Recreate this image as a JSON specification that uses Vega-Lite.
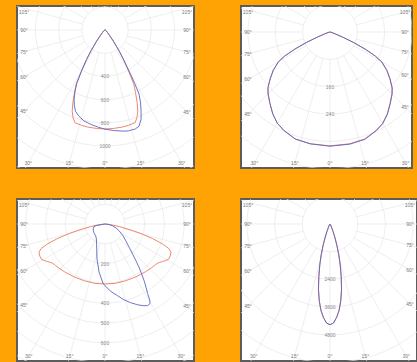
{
"$schema": "https://vega.github.io/schema/vega-lite/v6.json",
"background": "#FFA305",
"padding": {"left": 16, "top": 5, "right": 0, "bottom": 0},
"bounds": "flush",
"columns": 2,
"spacing": {"row": 31, "column": 47},
"resolve": {"scale": {"x": "independent", "y": "independent", "size": "independent"}},
"config": {"view": {"stroke": "#5c5c5c", "strokeWidth": 2, "fill": "#ffffff"}},
"datasets": {
"spokes": [{"g":0},{"g":15},{"g":30},{"g":45},{"g":60},{"g":75},{"g":90},{"g":105},{"g":120},{"g":135},{"g":150},{"g":165},{"g":180},{"g":195},{"g":210},{"g":225},{"g":240},{"g":255},{"g":270},{"g":285},{"g":300},{"g":315},{"g":330},{"g":345}],
"rings": [
{"p":1,"r":200},{"p":1,"r":400},{"p":1,"r":600},{"p":1,"r":800},{"p":1,"r":1000},{"p":1,"r":1200},{"p":1,"r":1400},
{"p":2,"r":80},{"p":2,"r":160},{"p":2,"r":240},{"p":2,"r":320},{"p":2,"r":400},{"p":2,"r":480},
{"p":3,"r":100},{"p":3,"r":200},{"p":3,"r":300},{"p":3,"r":400},{"p":3,"r":500},{"p":3,"r":600},{"p":3,"r":700},{"p":3,"r":800},
{"p":4,"r":1200},{"p":4,"r":2400},{"p":4,"r":3600},{"p":4,"r":4800},{"p":4,"r":6000},{"p":4,"r":7200}],
"ringlabels": [
{"p":1,"r":400},{"p":1,"r":600},{"p":1,"r":800},{"p":1,"r":1000},
{"p":2,"r":160},{"p":2,"r":240},
{"p":3,"r":200},{"p":3,"r":400},{"p":3,"r":500},{"p":3,"r":600},
{"p":4,"r":2400},{"p":4,"r":3600},{"p":4,"r":4800}],
"anglelabels": [
{"t":"105°","g":105,"s":-1,"e":"side"},{"t":"90°","g":90,"s":-1,"e":"side"},{"t":"75°","g":75,"s":-1,"e":"side"},{"t":"60°","g":60,"s":-1,"e":"side"},{"t":"45°","g":45,"s":-1,"e":"side"},
{"t":"105°","g":105,"s":1,"e":"side"},{"t":"90°","g":90,"s":1,"e":"side"},{"t":"75°","g":75,"s":1,"e":"side"},{"t":"60°","g":60,"s":1,"e":"side"},{"t":"45°","g":45,"s":1,"e":"side"},
{"t":"30°","g":30,"s":-1,"e":"bot"},{"t":"15°","g":15,"s":-1,"e":"bot"},{"t":"0°","g":0,"s":1,"e":"bot"},{"t":"15°","g":15,"s":1,"e":"bot"},{"t":"30°","g":30,"s":1,"e":"bot"}],
"curves": [
{"p":1,"pl":"r","g":-90,"I":0},{"p":1,"pl":"r","g":-75,"I":4},{"p":1,"pl":"r","g":-60,"I":10},{"p":1,"pl":"r","g":-45,"I":30},{"p":1,"pl":"r","g":-40,"I":60},{"p":1,"pl":"r","g":-37,"I":120},{"p":1,"pl":"r","g":-34,"I":215},{"p":1,"pl":"r","g":-32,"I":300},{"p":1,"pl":"r","g":-30,"I":400},{"p":1,"pl":"r","g":-28,"I":530},{"p":1,"pl":"r","g":-26,"I":600},{"p":1,"pl":"r","g":-24,"I":680},{"p":1,"pl":"r","g":-22,"I":755},{"p":1,"pl":"r","g":-20,"I":805},{"p":1,"pl":"r","g":-18,"I":840},{"p":1,"pl":"r","g":-14,"I":846},{"p":1,"pl":"r","g":-10,"I":850},{"p":1,"pl":"r","g":-5,"I":852},{"p":1,"pl":"r","g":0,"I":853},{"p":1,"pl":"r","g":5,"I":852},{"p":1,"pl":"r","g":10,"I":850},{"p":1,"pl":"r","g":14,"I":846},{"p":1,"pl":"r","g":18,"I":840},{"p":1,"pl":"r","g":20,"I":805},{"p":1,"pl":"r","g":22,"I":755},{"p":1,"pl":"r","g":24,"I":680},{"p":1,"pl":"r","g":26,"I":600},{"p":1,"pl":"r","g":28,"I":530},{"p":1,"pl":"r","g":30,"I":400},{"p":1,"pl":"r","g":32,"I":300},{"p":1,"pl":"r","g":34,"I":215},{"p":1,"pl":"r","g":37,"I":120},{"p":1,"pl":"r","g":40,"I":60},{"p":1,"pl":"r","g":45,"I":30},{"p":1,"pl":"r","g":60,"I":10},{"p":1,"pl":"r","g":75,"I":4},{"p":1,"pl":"r","g":90,"I":0},
{"p":1,"pl":"b","g":-90,"I":0},{"p":1,"pl":"b","g":-75,"I":4},{"p":1,"pl":"b","g":-60,"I":10},{"p":1,"pl":"b","g":-45,"I":30},{"p":1,"pl":"b","g":-40,"I":60},{"p":1,"pl":"b","g":-37,"I":120},{"p":1,"pl":"b","g":-34,"I":215},{"p":1,"pl":"b","g":-32,"I":300},{"p":1,"pl":"b","g":-30,"I":395},{"p":1,"pl":"b","g":-28,"I":515},{"p":1,"pl":"b","g":-26,"I":590},{"p":1,"pl":"b","g":-24,"I":655},{"p":1,"pl":"b","g":-22,"I":705},{"p":1,"pl":"b","g":-20,"I":745},{"p":1,"pl":"b","g":-17,"I":775},{"p":1,"pl":"b","g":-13,"I":805},{"p":1,"pl":"b","g":-8,"I":825},{"p":1,"pl":"b","g":-4,"I":840},{"p":1,"pl":"b","g":0,"I":855},{"p":1,"pl":"b","g":5,"I":870},{"p":1,"pl":"b","g":10,"I":885},{"p":1,"pl":"b","g":13,"I":893},{"p":1,"pl":"b","g":17,"I":892},{"p":1,"pl":"b","g":19.5,"I":880},{"p":1,"pl":"b","g":22,"I":830},{"p":1,"pl":"b","g":24,"I":764},{"p":1,"pl":"b","g":26,"I":700},{"p":1,"pl":"b","g":28,"I":625},{"p":1,"pl":"b","g":29,"I":530},{"p":1,"pl":"b","g":30,"I":440},{"p":1,"pl":"b","g":32,"I":310},{"p":1,"pl":"b","g":34,"I":220},{"p":1,"pl":"b","g":37,"I":120},{"p":1,"pl":"b","g":40,"I":60},{"p":1,"pl":"b","g":45,"I":30},{"p":1,"pl":"b","g":60,"I":10},{"p":1,"pl":"b","g":75,"I":4},{"p":1,"pl":"b","g":90,"I":0},
{"p":2,"pl":"r","g":-90,"I":0},{"p":2,"pl":"r","g":-75,"I":6},{"p":2,"pl":"r","g":-70,"I":18},{"p":2,"pl":"r","g":-68,"I":40},{"p":2,"pl":"r","g":-66,"I":75},{"p":2,"pl":"r","g":-64,"I":115},{"p":2,"pl":"r","g":-62,"I":150},{"p":2,"pl":"r","g":-60,"I":174},{"p":2,"pl":"r","g":-56,"I":200},{"p":2,"pl":"r","g":-52,"I":222},{"p":2,"pl":"r","g":-48,"I":244},{"p":2,"pl":"r","g":-45,"I":256},{"p":2,"pl":"r","g":-40,"I":273},{"p":2,"pl":"r","g":-35,"I":292},{"p":2,"pl":"r","g":-30,"I":308},{"p":2,"pl":"r","g":-25,"I":318},{"p":2,"pl":"r","g":-18,"I":329},{"p":2,"pl":"r","g":-10,"I":332},{"p":2,"pl":"r","g":0,"I":333},{"p":2,"pl":"r","g":10,"I":332},{"p":2,"pl":"r","g":18,"I":329},{"p":2,"pl":"r","g":25,"I":318},{"p":2,"pl":"r","g":30,"I":308},{"p":2,"pl":"r","g":35,"I":292},{"p":2,"pl":"r","g":40,"I":273},{"p":2,"pl":"r","g":45,"I":256},{"p":2,"pl":"r","g":48,"I":244},{"p":2,"pl":"r","g":52,"I":222},{"p":2,"pl":"r","g":56,"I":200},{"p":2,"pl":"r","g":60,"I":174},{"p":2,"pl":"r","g":62,"I":150},{"p":2,"pl":"r","g":64,"I":115},{"p":2,"pl":"r","g":66,"I":75},{"p":2,"pl":"r","g":68,"I":40},{"p":2,"pl":"r","g":70,"I":18},{"p":2,"pl":"r","g":75,"I":6},{"p":2,"pl":"r","g":90,"I":0},
{"p":2,"pl":"b","g":-90,"I":0},{"p":2,"pl":"b","g":-75,"I":6},{"p":2,"pl":"b","g":-70,"I":18},{"p":2,"pl":"b","g":-68,"I":40},{"p":2,"pl":"b","g":-66,"I":75},{"p":2,"pl":"b","g":-64,"I":115},{"p":2,"pl":"b","g":-62,"I":150},{"p":2,"pl":"b","g":-60,"I":174},{"p":2,"pl":"b","g":-56,"I":200},{"p":2,"pl":"b","g":-52,"I":222},{"p":2,"pl":"b","g":-48,"I":244},{"p":2,"pl":"b","g":-45,"I":256},{"p":2,"pl":"b","g":-40,"I":273},{"p":2,"pl":"b","g":-35,"I":292},{"p":2,"pl":"b","g":-30,"I":308},{"p":2,"pl":"b","g":-25,"I":318},{"p":2,"pl":"b","g":-18,"I":329},{"p":2,"pl":"b","g":-10,"I":332},{"p":2,"pl":"b","g":0,"I":334},{"p":2,"pl":"b","g":10,"I":333},{"p":2,"pl":"b","g":18,"I":330},{"p":2,"pl":"b","g":25,"I":319},{"p":2,"pl":"b","g":30,"I":309},{"p":2,"pl":"b","g":35,"I":293},{"p":2,"pl":"b","g":40,"I":274},{"p":2,"pl":"b","g":45,"I":257},{"p":2,"pl":"b","g":48,"I":245},{"p":2,"pl":"b","g":52,"I":223},{"p":2,"pl":"b","g":56,"I":201},{"p":2,"pl":"b","g":60,"I":175},{"p":2,"pl":"b","g":62,"I":150},{"p":2,"pl":"b","g":64,"I":115},{"p":2,"pl":"b","g":66,"I":75},{"p":2,"pl":"b","g":68,"I":40},{"p":2,"pl":"b","g":70,"I":18},{"p":2,"pl":"b","g":75,"I":6},{"p":2,"pl":"b","g":90,"I":0},
{"p":3,"pl":"r","g":-90,"I":0},{"p":3,"pl":"r","g":-85,"I":18},{"p":3,"pl":"r","g":-82,"I":40},{"p":3,"pl":"r","g":-79.5,"I":76},{"p":3,"pl":"r","g":-77,"I":135},{"p":3,"pl":"r","g":-75,"I":192},{"p":3,"pl":"r","g":-73,"I":250},{"p":3,"pl":"r","g":-71,"I":305},{"p":3,"pl":"r","g":-69,"I":345},{"p":3,"pl":"r","g":-67,"I":362},{"p":3,"pl":"r","g":-64,"I":367},{"p":3,"pl":"r","g":-61,"I":367},{"p":3,"pl":"r","g":-59,"I":358},{"p":3,"pl":"r","g":-57,"I":347},{"p":3,"pl":"r","g":-55,"I":338},{"p":3,"pl":"r","g":-53,"I":330},{"p":3,"pl":"r","g":-50,"I":326},{"p":3,"pl":"r","g":-46,"I":322},{"p":3,"pl":"r","g":-40,"I":316},{"p":3,"pl":"r","g":-30,"I":309},{"p":3,"pl":"r","g":-20,"I":305},{"p":3,"pl":"r","g":-10,"I":304},{"p":3,"pl":"r","g":0,"I":303},{"p":3,"pl":"r","g":10,"I":304},{"p":3,"pl":"r","g":20,"I":305},{"p":3,"pl":"r","g":30,"I":309},{"p":3,"pl":"r","g":40,"I":316},{"p":3,"pl":"r","g":46,"I":322},{"p":3,"pl":"r","g":50,"I":326},{"p":3,"pl":"r","g":53,"I":330},{"p":3,"pl":"r","g":55,"I":338},{"p":3,"pl":"r","g":57,"I":347},{"p":3,"pl":"r","g":59,"I":358},{"p":3,"pl":"r","g":61,"I":367},{"p":3,"pl":"r","g":64,"I":367},{"p":3,"pl":"r","g":67,"I":362},{"p":3,"pl":"r","g":69,"I":345},{"p":3,"pl":"r","g":71,"I":305},{"p":3,"pl":"r","g":73,"I":250},{"p":3,"pl":"r","g":75,"I":192},{"p":3,"pl":"r","g":77,"I":135},{"p":3,"pl":"r","g":79.5,"I":76},{"p":3,"pl":"r","g":82,"I":40},{"p":3,"pl":"r","g":85,"I":18},{"p":3,"pl":"r","g":90,"I":0},
{"p":3,"pl":"b","g":-90,"I":0},{"p":3,"pl":"b","g":-80,"I":45},{"p":3,"pl":"b","g":-76,"I":58},{"p":3,"pl":"b","g":-68,"I":64},{"p":3,"pl":"b","g":-62,"I":67},{"p":3,"pl":"b","g":-50,"I":72},{"p":3,"pl":"b","g":-38,"I":76},{"p":3,"pl":"b","g":-30,"I":87},{"p":3,"pl":"b","g":-22,"I":113},{"p":3,"pl":"b","g":-18,"I":135},{"p":3,"pl":"b","g":-13,"I":180},{"p":3,"pl":"b","g":-7,"I":245},{"p":3,"pl":"b","g":-2,"I":298},{"p":3,"pl":"b","g":0,"I":312},{"p":3,"pl":"b","g":5,"I":342},{"p":3,"pl":"b","g":10,"I":368},{"p":3,"pl":"b","g":14,"I":394},{"p":3,"pl":"b","g":18,"I":418},{"p":3,"pl":"b","g":22,"I":440},{"p":3,"pl":"b","g":25,"I":455},{"p":3,"pl":"b","g":27.5,"I":465},{"p":3,"pl":"b","g":29.5,"I":462},{"p":3,"pl":"b","g":30.5,"I":445},{"p":3,"pl":"b","g":31.5,"I":412},{"p":3,"pl":"b","g":33,"I":380},{"p":3,"pl":"b","g":34.5,"I":350},{"p":3,"pl":"b","g":36,"I":318},{"p":3,"pl":"b","g":38,"I":281},{"p":3,"pl":"b","g":40,"I":245},{"p":3,"pl":"b","g":42.5,"I":207},{"p":3,"pl":"b","g":46,"I":170},{"p":3,"pl":"b","g":51,"I":135},{"p":3,"pl":"b","g":57,"I":108},{"p":3,"pl":"b","g":64,"I":80},{"p":3,"pl":"b","g":70,"I":60},{"p":3,"pl":"b","g":77,"I":38},{"p":3,"pl":"b","g":83,"I":20},{"p":3,"pl":"b","g":90,"I":0},
{"p":4,"pl":"r","g":-90,"I":0},{"p":4,"pl":"r","g":-40,"I":20},{"p":4,"pl":"r","g":-30,"I":60},{"p":4,"pl":"r","g":-25,"I":160},{"p":4,"pl":"r","g":-22,"I":360},{"p":4,"pl":"r","g":-20,"I":600},{"p":4,"pl":"r","g":-18,"I":950},{"p":4,"pl":"r","g":-16,"I":1380},{"p":4,"pl":"r","g":-14,"I":1840},{"p":4,"pl":"r","g":-12,"I":2340},{"p":4,"pl":"r","g":-10,"I":2890},{"p":4,"pl":"r","g":-8,"I":3360},{"p":4,"pl":"r","g":-6,"I":3770},{"p":4,"pl":"r","g":-4,"I":4060},{"p":4,"pl":"r","g":-2,"I":4290},{"p":4,"pl":"r","g":0,"I":4360},{"p":4,"pl":"r","g":2,"I":4290},{"p":4,"pl":"r","g":4,"I":4060},{"p":4,"pl":"r","g":6,"I":3750},{"p":4,"pl":"r","g":8,"I":3340},{"p":4,"pl":"r","g":10,"I":2870},{"p":4,"pl":"r","g":12,"I":2320},{"p":4,"pl":"r","g":14,"I":1820},{"p":4,"pl":"r","g":16,"I":1380},{"p":4,"pl":"r","g":18,"I":950},{"p":4,"pl":"r","g":20,"I":600},{"p":4,"pl":"r","g":22,"I":360},{"p":4,"pl":"r","g":25,"I":160},{"p":4,"pl":"r","g":30,"I":60},{"p":4,"pl":"r","g":40,"I":20},{"p":4,"pl":"r","g":90,"I":0},
{"p":4,"pl":"b","g":-90,"I":0},{"p":4,"pl":"b","g":-40,"I":20},{"p":4,"pl":"b","g":-30,"I":60},{"p":4,"pl":"b","g":-25,"I":160},{"p":4,"pl":"b","g":-22,"I":360},{"p":4,"pl":"b","g":-20,"I":600},{"p":4,"pl":"b","g":-18,"I":950},{"p":4,"pl":"b","g":-16,"I":1380},{"p":4,"pl":"b","g":-14,"I":1820},{"p":4,"pl":"b","g":-12,"I":2320},{"p":4,"pl":"b","g":-10,"I":2870},{"p":4,"pl":"b","g":-8,"I":3340},{"p":4,"pl":"b","g":-6,"I":3750},{"p":4,"pl":"b","g":-4,"I":4060},{"p":4,"pl":"b","g":-2,"I":4290},{"p":4,"pl":"b","g":0,"I":4360},{"p":4,"pl":"b","g":2,"I":4290},{"p":4,"pl":"b","g":4,"I":4060},{"p":4,"pl":"b","g":6,"I":3770},{"p":4,"pl":"b","g":8,"I":3360},{"p":4,"pl":"b","g":10,"I":2890},{"p":4,"pl":"b","g":12,"I":2340},{"p":4,"pl":"b","g":14,"I":1840},{"p":4,"pl":"b","g":16,"I":1380},{"p":4,"pl":"b","g":18,"I":950},{"p":4,"pl":"b","g":20,"I":600},{"p":4,"pl":"b","g":22,"I":360},{"p":4,"pl":"b","g":25,"I":160},{"p":4,"pl":"b","g":30,"I":60},{"p":4,"pl":"b","g":40,"I":20},{"p":4,"pl":"b","g":90,"I":0}
]
},
"concat": [
{"width": 177, "height": 162, "layer": [
{"data": {"name": "spokes"}, "transform": [{"calculate": "200*sin(datum.g*PI/180)", "as": "x1"}, {"calculate": "-200*cos(datum.g*PI/180)", "as": "y1"}, {"calculate": "4000*sin(datum.g*PI/180)", "as": "x2"}, {"calculate": "-4000*cos(datum.g*PI/180)", "as": "y2"}],
 "mark": {"type": "rule", "clip": true, "color": "#e7e7e7", "strokeWidth": 0.7},
 "encoding": {"x": {"field": "x1", "type": "quantitative", "scale": {"domain": [-758.6, 767.2], "nice": false, "zero": false}, "axis": null}, "y": {"field": "y1", "type": "quantitative", "scale": {"domain": [-1189.7, 206.9], "nice": false, "zero": false}, "axis": null}, "x2": {"field": "x2"}, "y2": {"field": "y2"}}},
{"data": {"name": "rings"}, "transform": [{"filter": "datum.p==1"}],
 "mark": {"type": "point", "filled": false, "clip": true, "stroke": "#e7e7e7", "strokeWidth": 0.7, "opacity": 1},
 "encoding": {"x": {"datum": 0, "type": "quantitative", "axis": null}, "y": {"datum": 0, "type": "quantitative", "axis": null}, "size": {"field": "r", "type": "quantitative", "scale": {"type": "pow", "exponent": 2, "domain": [0, 1400], "range": [0, 105495]}, "legend": null}}},
{"data": {"name": "ringlabels"}, "transform": [{"filter": "datum.p==1"}, {"calculate": "-datum.r", "as": "ny"}],
 "mark": {"type": "text", "fontSize": 5, "color": "#8a8a8a", "font": "Liberation Sans", "align": "center", "baseline": "middle"},
 "encoding": {"x": {"datum": 0, "type": "quantitative", "axis": null}, "y": {"field": "ny", "type": "quantitative", "axis": null}, "text": {"field": "r", "type": "quantitative", "format": "d"}}},
{"data": {"name": "curves"}, "transform": [{"filter": "datum.p==1"}, {"calculate": "datum.I*sin(datum.g*PI/180)", "as": "cx"}, {"calculate": "-datum.I*cos(datum.g*PI/180)", "as": "cy"}],
 "mark": {"type": "line", "clip": true, "strokeWidth": 0.9},
 "encoding": {"x": {"field": "cx", "type": "quantitative", "axis": null}, "y": {"field": "cy", "type": "quantitative", "axis": null}, "color": {"field": "pl", "type": "nominal", "scale": {"domain": ["r", "b"], "range": ["#ec7a5e", "#5a66c0"]}, "legend": null}, "order": {"field": "g", "type": "quantitative"}}},
{"data": {"name": "anglelabels"}, "transform": [{"calculate": "datum.e=='side' ? (datum.s<0 ? -81 : 82) : datum.s*133*tan(datum.g*PI/180)", "as": "xp"}, {"calculate": "datum.e=='side' ? max(-18, abs(datum.xp)/tan(datum.g*PI/180)) : 133", "as": "yp"}, {"calculate": "datum.xp/0.116", "as": "lx"}, {"calculate": "-datum.yp/0.116", "as": "ly"}],
 "mark": {"type": "text", "fontSize": 5, "color": "#7a7a7a", "font": "Liberation Sans", "align": "center", "baseline": "middle"},
 "encoding": {"x": {"field": "lx", "type": "quantitative", "axis": null}, "y": {"field": "ly", "type": "quantitative", "axis": null}, "text": {"field": "t"}}}
]},
{"width": 171, "height": 162, "layer": [
{"data": {"name": "spokes"}, "transform": [{"calculate": "80*sin(datum.g*PI/180)", "as": "x1"}, {"calculate": "-80*cos(datum.g*PI/180)", "as": "y1"}, {"calculate": "1500*sin(datum.g*PI/180)", "as": "x2"}, {"calculate": "-1500*cos(datum.g*PI/180)", "as": "y2"}],
 "mark": {"type": "rule", "clip": true, "color": "#e7e7e7", "strokeWidth": 0.7},
 "encoding": {"x": {"field": "x1", "type": "quantitative", "scale": {"domain": [-260.2, 239.8], "nice": false, "zero": false}, "axis": null}, "y": {"field": "y1", "type": "quantitative", "scale": {"domain": [-397.7, 76.0], "nice": false, "zero": false}, "axis": null}, "x2": {"field": "x2"}, "y2": {"field": "y2"}}},
{"data": {"name": "rings"}, "transform": [{"filter": "datum.p==2"}],
 "mark": {"type": "point", "filled": false, "clip": true, "stroke": "#e7e7e7", "strokeWidth": 0.7, "opacity": 1},
 "encoding": {"x": {"datum": 0, "type": "quantitative", "axis": null}, "y": {"datum": 0, "type": "quantitative", "axis": null}, "size": {"field": "r", "type": "quantitative", "scale": {"type": "pow", "exponent": 2, "domain": [0, 480], "range": [0, 107806]}, "legend": null}}},
{"data": {"name": "ringlabels"}, "transform": [{"filter": "datum.p==2"}, {"calculate": "-datum.r", "as": "ny"}],
 "mark": {"type": "text", "fontSize": 5, "color": "#8a8a8a", "font": "Liberation Sans", "align": "center", "baseline": "middle"},
 "encoding": {"x": {"datum": 0, "type": "quantitative", "axis": null}, "y": {"field": "ny", "type": "quantitative", "axis": null}, "text": {"field": "r", "type": "quantitative", "format": "d"}}},
{"data": {"name": "curves"}, "transform": [{"filter": "datum.p==2"}, {"calculate": "datum.I*sin(datum.g*PI/180)", "as": "cx"}, {"calculate": "-datum.I*cos(datum.g*PI/180)", "as": "cy"}],
 "mark": {"type": "line", "clip": true, "strokeWidth": 0.9},
 "encoding": {"x": {"field": "cx", "type": "quantitative", "axis": null}, "y": {"field": "cy", "type": "quantitative", "axis": null}, "color": {"field": "pl", "type": "nominal", "scale": {"domain": ["r", "b"], "range": ["#ec7a5e", "#5a66c0"]}, "legend": null}, "order": {"field": "g", "type": "quantitative"}}},
{"data": {"name": "anglelabels"}, "transform": [{"calculate": "datum.e=='side' ? (datum.s<0 ? -82 : 75) : datum.s*131*tan(datum.g*PI/180)", "as": "xp"}, {"calculate": "datum.e=='side' ? max(-20, abs(datum.xp)/tan(datum.g*PI/180)) : 131", "as": "yp"}, {"calculate": "datum.xp/0.342", "as": "lx"}, {"calculate": "-datum.yp/0.342", "as": "ly"}],
 "mark": {"type": "text", "fontSize": 5, "color": "#7a7a7a", "font": "Liberation Sans", "align": "center", "baseline": "middle"},
 "encoding": {"x": {"field": "lx", "type": "quantitative", "axis": null}, "y": {"field": "ly", "type": "quantitative", "axis": null}, "text": {"field": "t"}}}
]},
{"width": 177, "height": 162, "layer": [
{"data": {"name": "spokes"}, "transform": [{"calculate": "100*sin(datum.g*PI/180)", "as": "x1"}, {"calculate": "-100*cos(datum.g*PI/180)", "as": "y1"}, {"calculate": "2500*sin(datum.g*PI/180)", "as": "x2"}, {"calculate": "-2500*cos(datum.g*PI/180)", "as": "y2"}],
 "mark": {"type": "rule", "clip": true, "color": "#e7e7e7", "strokeWidth": 0.7},
 "encoding": {"x": {"field": "x1", "type": "quantitative", "scale": {"domain": [-444.4, 449.5], "nice": false, "zero": false}, "axis": null}, "y": {"field": "y1", "type": "quantitative", "scale": {"domain": [-691.9, 126.3], "nice": false, "zero": false}, "axis": null}, "x2": {"field": "x2"}, "y2": {"field": "y2"}}},
{"data": {"name": "rings"}, "transform": [{"filter": "datum.p==3"}],
 "mark": {"type": "point", "filled": false, "clip": true, "stroke": "#e7e7e7", "strokeWidth": 0.7, "opacity": 1},
 "encoding": {"x": {"datum": 0, "type": "quantitative", "axis": null}, "y": {"datum": 0, "type": "quantitative", "axis": null}, "size": {"field": "r", "type": "quantitative", "scale": {"type": "pow", "exponent": 2, "domain": [0, 800], "range": [0, 100362]}, "legend": null}}},
{"data": {"name": "ringlabels"}, "transform": [{"filter": "datum.p==3"}, {"calculate": "-datum.r", "as": "ny"}],
 "mark": {"type": "text", "fontSize": 5, "color": "#8a8a8a", "font": "Liberation Sans", "align": "center", "baseline": "middle"},
 "encoding": {"x": {"datum": 0, "type": "quantitative", "axis": null}, "y": {"field": "ny", "type": "quantitative", "axis": null}, "text": {"field": "r", "type": "quantitative", "format": "d"}}},
{"data": {"name": "curves"}, "transform": [{"filter": "datum.p==3"}, {"calculate": "datum.I*sin(datum.g*PI/180)", "as": "cx"}, {"calculate": "-datum.I*cos(datum.g*PI/180)", "as": "cy"}],
 "mark": {"type": "line", "clip": true, "strokeWidth": 0.9},
 "encoding": {"x": {"field": "cx", "type": "quantitative", "axis": null}, "y": {"field": "cy", "type": "quantitative", "axis": null}, "color": {"field": "pl", "type": "nominal", "scale": {"domain": ["r", "b"], "range": ["#ee8468", "#5a66c0"]}, "legend": null}, "order": {"field": "g", "type": "quantitative"}}},
{"data": {"name": "anglelabels"}, "transform": [{"calculate": "datum.e=='side' ? (datum.s<0 ? -81 : 82) : datum.s*132*tan(datum.g*PI/180)", "as": "xp"}, {"calculate": "datum.e=='side' ? max(-19, abs(datum.xp)/tan(datum.g*PI/180)) : 132", "as": "yp"}, {"calculate": "datum.xp/0.198", "as": "lx"}, {"calculate": "-datum.yp/0.198", "as": "ly"}],
 "mark": {"type": "text", "fontSize": 5, "color": "#7a7a7a", "font": "Liberation Sans", "align": "center", "baseline": "middle"},
 "encoding": {"x": {"field": "lx", "type": "quantitative", "axis": null}, "y": {"field": "ly", "type": "quantitative", "axis": null}, "text": {"field": "t"}}}
]},
{"width": 176, "height": 162, "layer": [
{"data": {"name": "spokes"}, "transform": [{"calculate": "1200*sin(datum.g*PI/180)", "as": "x1"}, {"calculate": "-1200*cos(datum.g*PI/180)", "as": "y1"}, {"calculate": "25000*sin(datum.g*PI/180)", "as": "x2"}, {"calculate": "-25000*cos(datum.g*PI/180)", "as": "y2"}],
 "mark": {"type": "rule", "clip": true, "color": "#e7e7e7", "strokeWidth": 0.7},
 "encoding": {"x": {"field": "x1", "type": "quantitative", "scale": {"domain": [-3852.8, 3766.2], "nice": false, "zero": false}, "axis": null}, "y": {"field": "y1", "type": "quantitative", "scale": {"domain": [-5930.7, 1082.3], "nice": false, "zero": false}, "axis": null}, "x2": {"field": "x2"}, "y2": {"field": "y2"}}},
{"data": {"name": "rings"}, "transform": [{"filter": "datum.p==4"}],
 "mark": {"type": "point", "filled": false, "clip": true, "stroke": "#e7e7e7", "strokeWidth": 0.7, "opacity": 1},
 "encoding": {"x": {"datum": 0, "type": "quantitative", "axis": null}, "y": {"datum": 0, "type": "quantitative", "axis": null}, "size": {"field": "r", "type": "quantitative", "scale": {"type": "pow", "exponent": 2, "domain": [0, 7200], "range": [0, 110640]}, "legend": null}}},
{"data": {"name": "ringlabels"}, "transform": [{"filter": "datum.p==4"}, {"calculate": "-datum.r", "as": "ny"}],
 "mark": {"type": "text", "fontSize": 5, "color": "#8a8a8a", "font": "Liberation Sans", "align": "center", "baseline": "middle"},
 "encoding": {"x": {"datum": 0, "type": "quantitative", "axis": null}, "y": {"field": "ny", "type": "quantitative", "axis": null}, "text": {"field": "r", "type": "quantitative", "format": "d"}}},
{"data": {"name": "curves"}, "transform": [{"filter": "datum.p==4"}, {"calculate": "datum.I*sin(datum.g*PI/180)", "as": "cx"}, {"calculate": "-datum.I*cos(datum.g*PI/180)", "as": "cy"}],
 "mark": {"type": "line", "clip": true, "strokeWidth": 0.9},
 "encoding": {"x": {"field": "cx", "type": "quantitative", "axis": null}, "y": {"field": "cy", "type": "quantitative", "axis": null}, "color": {"field": "pl", "type": "nominal", "scale": {"domain": ["r", "b"], "range": ["#ec7a5e", "#5a66c0"]}, "legend": null}, "order": {"field": "g", "type": "quantitative"}}},
{"data": {"name": "anglelabels"}, "transform": [{"calculate": "datum.e=='side' ? (datum.s<0 ? -82 : 80) : datum.s*132*tan(datum.g*PI/180)", "as": "xp"}, {"calculate": "datum.e=='side' ? max(-19, abs(datum.xp)/tan(datum.g*PI/180)) : 132", "as": "yp"}, {"calculate": "datum.xp/0.0231", "as": "lx"}, {"calculate": "-datum.yp/0.0231", "as": "ly"}],
 "mark": {"type": "text", "fontSize": 5, "color": "#7a7a7a", "font": "Liberation Sans", "align": "center", "baseline": "middle"},
 "encoding": {"x": {"field": "lx", "type": "quantitative", "axis": null}, "y": {"field": "ly", "type": "quantitative", "axis": null}, "text": {"field": "t"}}}
]}
]
}
